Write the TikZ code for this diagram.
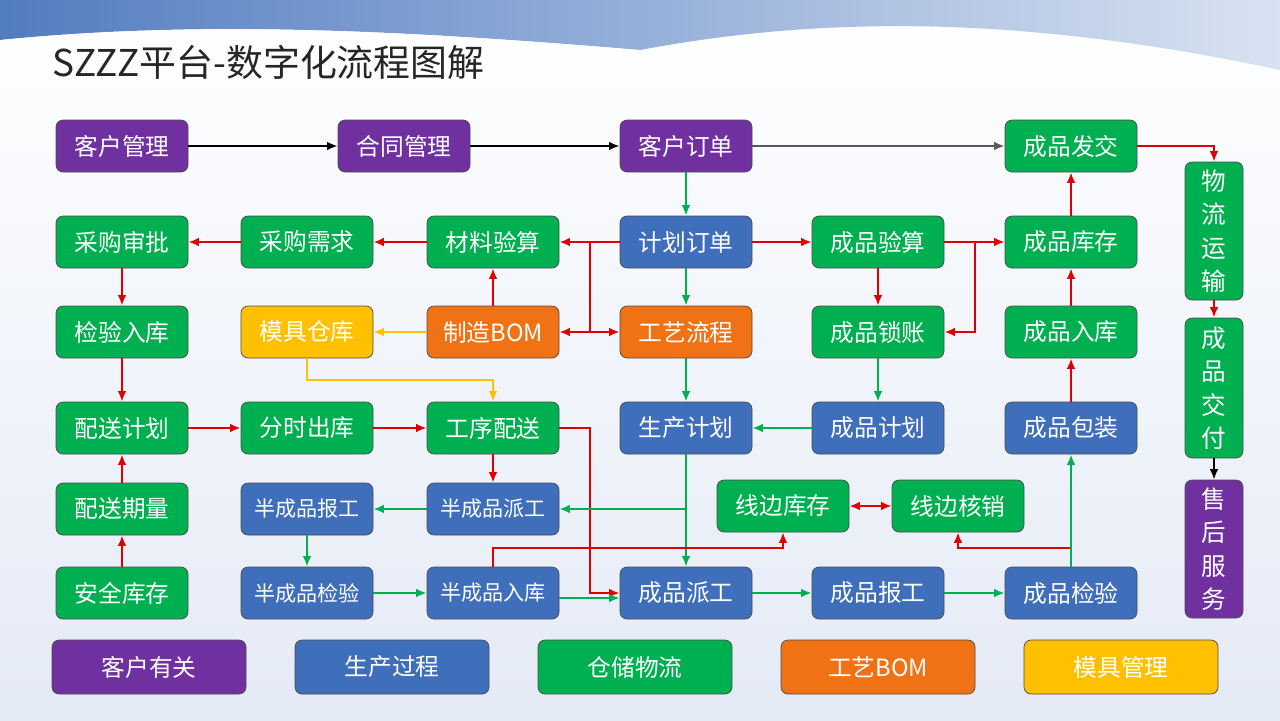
\documentclass[tikz,border=0pt]{standalone}
\usepackage{fontspec}
\newfontfamily\cjk{Noto Sans CJK SC}
\usetikzlibrary{arrows.meta,positioning}
\definecolor{kpurple}{HTML}{7030A0}
\definecolor{kblue}{HTML}{3F6EBA}
\definecolor{kgreen}{HTML}{00AF4F}
\definecolor{korange}{HTML}{F07214}
\definecolor{kyellow}{HTML}{FFC000}
\definecolor{kred}{HTML}{E00000}
\definecolor{kbg}{HTML}{E4EAF6}
\tikzset{
	box/.style={draw=black!70,rounded corners=4pt,minimum width=132\pxu,minimum height=52\pxu,
		text=white,font=\cjk\fontsize{13.5}{13.5}\selectfont,inner sep=1pt},
	vbox/.style={box,minimum width=58\pxu,align=center,font=\cjk\fontsize{14}{19}\selectfont},
	leg/.style={box,minimum width=194\pxu,minimum height=54\pxu},
	rl/.style={draw=kred,line width=1.6pt,-{Latex[length=6pt,width=5pt]}},
	gl/.style={draw=kgreen,line width=1.6pt,-{Latex[length=6pt,width=5pt]}},
	yl/.style={draw=kyellow,line width=1.6pt,-{Latex[length=6pt,width=5pt]}},
	kl/.style={draw=black,line width=1.6pt,-{Latex[length=6pt,width=5pt]}},
}
\def\pxu{*0.02cm}
\begin{document}
\begin{tikzpicture}[x=0.02cm,y=-0.02cm]
\useasboundingbox (0,0) rectangle (1280,720);
% background
\shade[top color=white,bottom color=kbg] (0,0) rectangle (1280,720);
\shade[left color=kblue!90,right color=kblue!20] (0,0) -- (1280,0) -- (1280,70)
	.. controls (1000,10) and (800,20) .. (640,50) .. controls (400,30) and (200,20) .. (0,40) -- cycle;
\fill[white,opacity=0.7] (0,40) .. controls (200,20) and (400,30) .. (640,50) .. controls (400,60) and (200,45) .. (0,60) -- cycle;
\node[anchor=west,font=\fontsize{21}{21}\selectfont\cjk,text=black!85] (title) at (46,62) {SZZZ平台-数字化流程图解};
% row 1
\node[box,fill=kpurple] (khgl) at (122,146) {客户管理};
\node[box,fill=kpurple] (htgl) at (404,146) {合同管理};
\node[box,fill=kpurple] (khdd) at (686,146) {客户订单};
\node[box,fill=kgreen] (cpfj) at (1071,146) {成品发交};
% row 2
\node[box,fill=kgreen] (cgsp) at (122,242) {采购审批};
\node[box,fill=kgreen] (cgxq) at (307,242) {采购需求};
\node[box,fill=kgreen] (clys) at (493,242) {材料验算};
\node[box,fill=kblue] (jhdd) at (686,242) {计划订单};
\node[box,fill=kgreen] (cpys) at (878,242) {成品验算};
\node[box,fill=kgreen] (cpkc) at (1071,242) {成品库存};
% row 3
\node[box,fill=kgreen] (jyrk) at (122,332) {检验入库};
\node[box,fill=kyellow] (mjck) at (307,332) {模具仓库};
\node[box,fill=korange] (zzbom) at (493,332) {制造BOM};
\node[box,fill=korange] (gylc) at (686,332) {工艺流程};
\node[box,fill=kgreen] (cpsz) at (878,332) {成品锁账};
\node[box,fill=kgreen] (cprk) at (1071,332) {成品入库};
% row 4
\node[box,fill=kgreen] (psjh) at (122,428) {配送计划};
\node[box,fill=kgreen] (fsck) at (307,428) {分时出库};
\node[box,fill=kgreen] (gxps) at (493,428) {工序配送};
\node[box,fill=kblue] (scjh) at (686,428) {生产计划};
\node[box,fill=kblue] (cpjh) at (878,428) {成品计划};
\node[box,fill=kblue] (cpbz) at (1071,428) {成品包装};
% row 5
\node[box,fill=kgreen] (psql) at (122,509) {配送期量};
\node[box,fill=kblue,font=\cjk\fontsize{12}{12}\selectfont] (bbg) at (307,509) {半成品报工};
\node[box,fill=kblue,font=\cjk\fontsize{12}{12}\selectfont] (bpg) at (493,509) {半成品派工};
\node[box,fill=kgreen] (xbkc) at (783,506) {线边库存};
\node[box,fill=kgreen] (xbhx) at (958,506) {线边核销};
% row 6
\node[box,fill=kgreen] (aqkc) at (122,593) {安全库存};
\node[box,fill=kblue,font=\cjk\fontsize{12}{12}\selectfont] (bjy) at (307,593) {半成品检验};
\node[box,fill=kblue,font=\cjk\fontsize{12}{12}\selectfont] (brk) at (493,593) {半成品入库};
\node[box,fill=kblue] (cppg) at (686,593) {成品派工};
\node[box,fill=kblue] (cpbg) at (878,593) {成品报工};
\node[box,fill=kblue] (cpjy) at (1071,593) {成品检验};
% right column
\node[vbox,fill=kgreen,minimum height=138\pxu] (wlys) at (1214,231) {物\\流\\运\\输};
\node[vbox,fill=kgreen,minimum height=140\pxu] (cpjf) at (1214,388) {成\\品\\交\\付};
\node[vbox,fill=kpurple,minimum height=138\pxu] (shfw) at (1214,549) {售\\后\\服\\务};
% legend
\node[leg,fill=kpurple] (lg1) at (149,667) {客户有关};
\node[leg,fill=kblue] (lg2) at (392,667) {生产过程};
\node[leg,fill=kgreen] (lg3) at (635,667) {仓储物流};
\node[leg,fill=korange] (lg4) at (878,667) {工艺BOM};
\node[leg,fill=kyellow] (lg5) at (1121,667) {模具管理};
% connectors
\draw[kl] (khgl) -- (htgl);
\draw[kl] (htgl) -- (khdd);
\draw[kl,draw=black!65] (khdd) -- (cpfj);
\draw[rl] (cpfj.east) -| (wlys.north);
\draw[rl] (wlys) -- (cpjf);
\draw[kl] (cpjf) -- (shfw);
\draw[gl] (khdd) -- (jhdd);
\draw[rl] (jhdd) -- (clys);
\coordinate (jx) at (590,242);
\coordinate (jy) at (590,332);
\draw[rl,-] (jx) -- (jy);
\draw[rl] (jy) -- (zzbom);
\draw[rl] (jy) -- (gylc);
\draw[rl] (clys) -- (cgxq);
\draw[rl] (cgxq) -- (cgsp);
\draw[rl] (zzbom) -- (clys);
\draw[yl] (zzbom) -- (mjck);
\draw[yl] (mjck.south) |- (493,380) -- (gxps.north);
\draw[gl] (jhdd) -- (gylc);
\draw[gl] (gylc) -- (scjh);
\draw[rl] (jhdd) -- (cpys);
\draw[rl] (cpys) -- (cpkc);
\draw[rl] (cpys) -- (cpsz);
\draw[rl] (975,242) |- (cpsz.east);
\draw[rl] (cpkc) -- (cpfj);
\draw[rl] (cprk) -- (cpkc);
\draw[rl] (cpbz) -- (cprk);
\draw[gl] (cpsz) -- (cpjh);
\draw[gl] (cpjh) -- (scjh);
\draw[rl] (cgsp) -- (jyrk);
\draw[rl] (jyrk) -- (psjh);
\draw[rl] (psql) -- (psjh);
\draw[rl] (aqkc) -- (psql);
\draw[rl] (psjh) -- (fsck);
\draw[rl] (fsck) -- (gxps);
\draw[rl] (gxps) -- (bpg);
\draw[rl] (gxps.east) -| (590,593) -- (cppg.west);
\draw[gl] (scjh) -- (cppg);
\draw[gl] (686,509) -- (bpg);
\draw[gl] (bpg) -- (bbg);
\draw[gl] (bbg) -- (bjy);
\draw[gl] (bjy) -- (brk);
\draw[gl] (brk.east |- 0,598) -- (cppg.west |- 0,598);
\draw[rl] (brk.north) |- (783,548) -- (xbkc.south);
\draw[rl,{Latex[length=6pt,width=5pt]}-{Latex[length=6pt,width=5pt]}] (xbkc) -- (xbhx);
\draw[rl] (cpjy.north) |- (958,548) -- (xbhx.south);
\draw[gl] (cpjy) -- (cpbz);
\draw[gl] (cppg) -- (cpbg);
\draw[gl] (cpbg) -- (cpjy);
\end{tikzpicture}
\end{document}
